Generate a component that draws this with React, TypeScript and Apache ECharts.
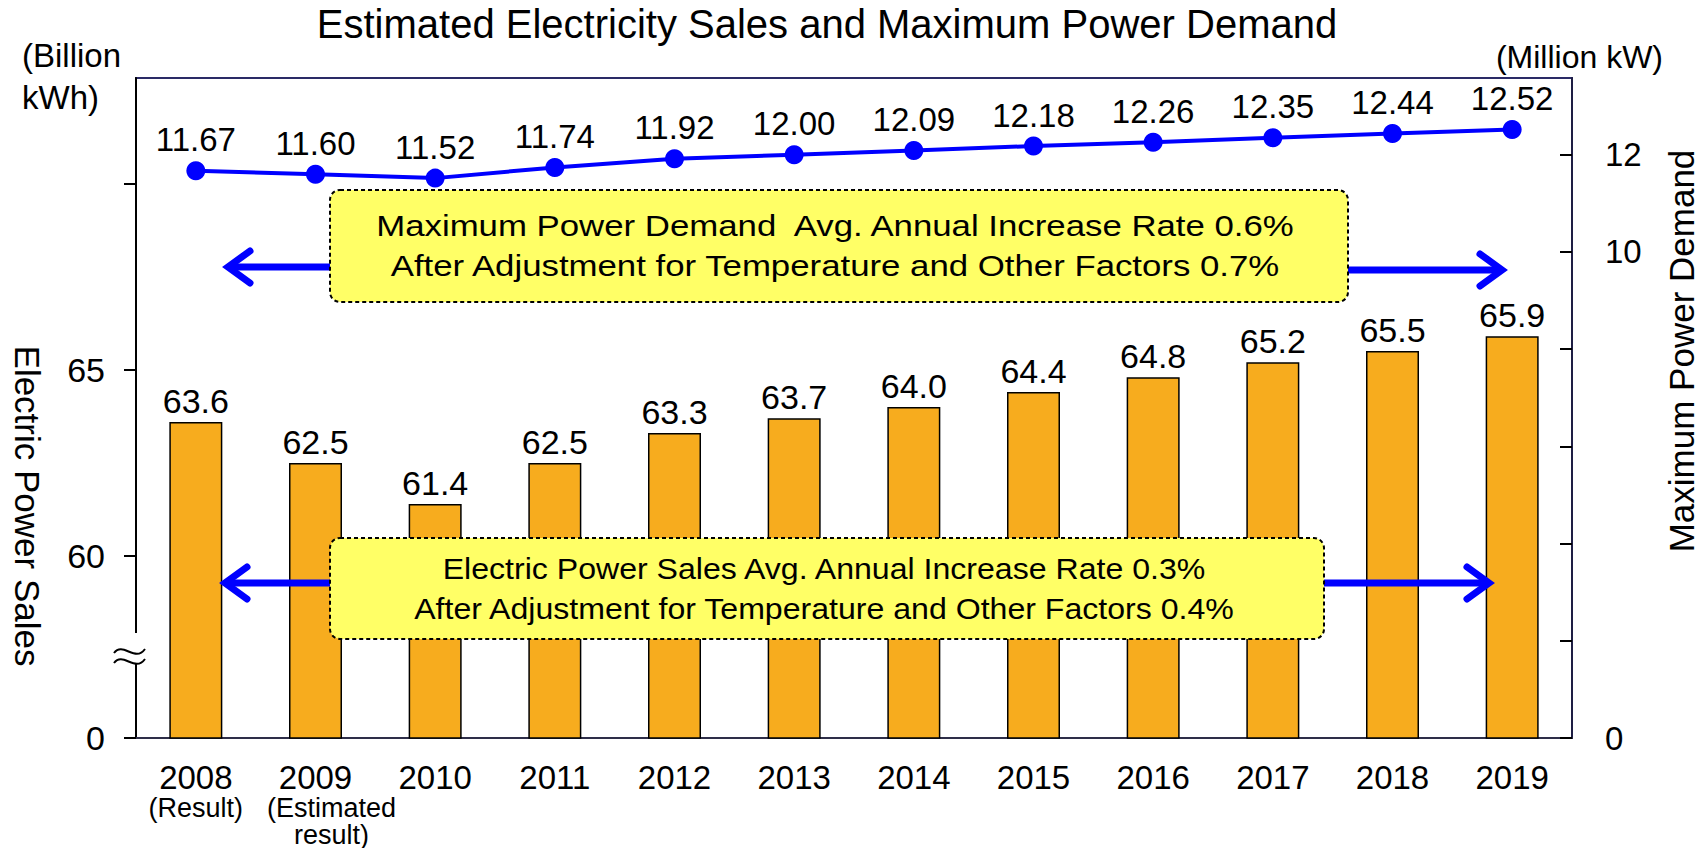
import React, { useEffect, useRef } from 'react';
import * as echarts from 'echarts';

const years = ['2008', '2009', '2010', '2011', '2012', '2013', '2014', '2015', '2016', '2017', '2018', '2019'];
const yearNotes = ['(Result)', '(Estimated\nresult)', '', '', '', '', '', '', '', '', '', ''];
const salesValues = [63.6, 62.5, 61.4, 62.5, 63.3, 63.7, 64.0, 64.4, 64.8, 65.2, 65.5, 65.9];
const demandValues = [11.67, 11.60, 11.52, 11.74, 11.92, 12.00, 12.09, 12.18, 12.26, 12.35, 12.44, 12.52];

// left axis is broken: its bottom stands for 0
const salesAxisBase = 55.117;
const salesAxisTop = 72.83;
const salesTickValues = [salesAxisBase, 60, 65, 70];
const salesLabelValues = [salesAxisBase, 60, 65];
const demandAxisMax = 13.58;
const demandTickValues = [0, 2, 4, 6, 8, 10, 12];
const demandLabelValues = [0, 10, 12];

const titleText = 'Estimated Electricity Sales and Maximum Power Demand';
const demandNote = ['Maximum Power Demand  Avg. Annual Increase Rate 0.6%', 'After Adjustment for Temperature and Other Factors 0.7%'];
const salesNote = ['Electric Power Sales Avg. Annual Increase Rate 0.3%', 'After Adjustment for Temperature and Other Factors 0.4%'];

const FONT = '"Liberation Sans", Arial, Helvetica, sans-serif';
const BLUE = '#0000FF';

function txt(text: string, x: number, y: number, fontSize: number, extra: any = {}, styleExtra: any = {}) {
  return {
    type: 'text',
    x,
    y,
    z: 110,
    ...extra,
    style: {
      text,
      fontSize,
      fontFamily: FONT,
      fill: '#000',
      align: 'center',
      textAlign: 'center',
      verticalAlign: 'middle',
      textVerticalAlign: 'middle',
      ...styleExtra,
    },
  };
}

function arrow(y: number, xFrom: number, xTip: number) {
  const dir = xTip > xFrom ? 1 : -1;
  const stroke = { stroke: BLUE, lineWidth: 7, fill: null, lineCap: 'round', lineJoin: 'miter' };
  return [
    { type: 'line', z: 90, shape: { x1: xFrom, y1: y, x2: xTip - dir * 3, y2: y }, style: { ...stroke, lineCap: 'butt' } },
    {
      type: 'polyline',
      z: 90,
      shape: { points: [[xTip - dir * 22, y - 16], [xTip, y], [xTip - dir * 22, y + 16]] },
      style: stroke,
    },
  ];
}

function noteBox(x: number, y: number, w: number, h: number, lines: string[], cx: number, stretch: number) {
  return [
    {
      type: 'rect',
      z: 100,
      shape: { x, y, width: w, height: h, r: 10 },
      style: { fill: '#FFFF66', stroke: '#000', lineWidth: 2, lineDash: [4, 3] },
    },
    txt(lines[0], cx, y + h / 2 - 20, 30, { scaleX: stretch }),
    txt(lines[1], cx, y + h / 2 + 20, 30, { scaleX: stretch }),
  ];
}

export default function App() {
  const ref = useRef<HTMLDivElement>(null);
  useEffect(() => {
    if (!ref.current) return;
    const chart = echarts.init(ref.current, null, { renderer: 'svg' });

    const option: any = {
      animation: false,
      textStyle: { fontFamily: FONT, color: '#000' },
      title: {
        text: titleText,
        left: 827,
        top: 4,
        textAlign: 'center',
        padding: 0,
        textStyle: { fontSize: 40, fontWeight: 'normal', color: '#000', fontFamily: FONT },
      },
      grid: {
        left: 136,
        right: 130,
        top: 78,
        bottom: 109,
        show: true,
        borderColor: '#2A2A66',
        borderWidth: 2,
        backgroundColor: 'transparent',
      },
      xAxis: {
        type: 'category',
        data: years,
        axisLine: { lineStyle: { color: '#2E2E48', width: 2 } },
        axisTick: { inside: true, length: 12, interval: 0, lineStyle: { color: '#000', width: 2 } },
        axisLabel: {
          interval: 0,
          margin: 22,
          color: '#000',
          formatter: (value: string, index: number) => {
            const note = yearNotes[index];
            if (!note) return `{y|${value}}`;
            const style = index === 1 ? 'e' : 's';
            return [`{y|${value}}`, ...note.split('\n').map((l) => `{${style}|${l}}`)].join('\n');
          },
          rich: {
            y: { fontSize: 33, lineHeight: 34, fontFamily: FONT, color: '#000' },
            s: { fontSize: 27, lineHeight: 27, fontFamily: FONT, color: '#000' },
            e: { fontSize: 27, lineHeight: 27, fontFamily: FONT, color: '#000', padding: [0, 0, 0, 32] },
          },
        },
      },
      yAxis: [
        {
          type: 'value',
          min: salesAxisBase,
          max: salesAxisTop,
          position: 'left',
          splitLine: { show: false },
          axisLine: { show: true, lineStyle: { color: '#000', width: 2 } },
          axisTick: { show: true, length: 12, customValues: salesTickValues, lineStyle: { color: '#000', width: 2 } },
          axisLabel: {
            customValues: salesLabelValues,
            margin: 31,
            fontSize: 34,
            color: '#000',
            formatter: (v: number) => (v < 58 ? '0' : String(Math.round(v))),
          },
        },
        {
          type: 'value',
          min: 0,
          max: demandAxisMax,
          position: 'right',
          splitLine: { show: false },
          axisLine: { show: true, lineStyle: { color: '#1E1E44', width: 2 } },
          axisTick: { show: true, inside: true, length: 12, customValues: demandTickValues, lineStyle: { color: '#000', width: 2 } },
          axisLabel: {
            customValues: demandLabelValues,
            margin: 33,
            fontSize: 33,
            color: '#000',
            formatter: (v: number) => String(v),
          },
        },
      ],
      series: [
        {
          type: 'bar',
          yAxisIndex: 0,
          data: salesValues,
          barWidth: 53,
          itemStyle: { color: '#F7AC1E', borderColor: '#000', borderWidth: 1.5 },
          label: {
            show: true,
            position: 'top',
            distance: 4,
            fontSize: 34,
            color: '#000',
            fontFamily: FONT,
            formatter: (p: any) => Number(p.value).toFixed(1),
          },
          z: 2,
        },
        {
          type: 'line',
          yAxisIndex: 1,
          data: demandValues,
          symbol: 'circle',
          symbolSize: 19,
          lineStyle: { color: BLUE, width: 4 },
          itemStyle: { color: BLUE },
          label: {
            show: true,
            position: 'top',
            distance: 5,
            fontSize: 33,
            color: '#000',
            fontFamily: FONT,
            formatter: (p: any) => Number(p.value).toFixed(2),
          },
          z: 5,
        },
      ],
      graphic: [
        txt('(Billion\nkWh)', 22, 34, 33, {}, { align: 'left', textAlign: 'left', verticalAlign: 'top', textVerticalAlign: 'top', lineHeight: 42 }),
        txt('(Million kW)', 1663, 57, 32, {}, { align: 'right', textAlign: 'right' }),
        txt('Electric Power Sales', 27, 506, 35, { rotation: -Math.PI / 2 }),
        txt('Maximum Power Demand', 1681, 351, 35, { rotation: Math.PI / 2 }),
        // axis break mark
        { type: 'rect', z: 95, shape: { x: 130, y: 633, width: 12, height: 30 }, style: { fill: '#fff' } },
        {
          type: 'bezierCurve',
          z: 96,
          shape: { x1: 114, y1: 653, cpx1: 123, cpy1: 641, cpx2: 135, cpy2: 663, x2: 145, y2: 649 },
          style: { stroke: '#000', lineWidth: 2, fill: null },
        },
        {
          type: 'bezierCurve',
          z: 96,
          shape: { x1: 114, y1: 663, cpx1: 123, cpy1: 651, cpx2: 135, cpy2: 673, x2: 145, y2: 659 },
          style: { stroke: '#000', lineWidth: 2, fill: null },
        },
        ...arrow(267, 330, 228),
        ...arrow(270, 1348, 1502),
        ...arrow(583, 330, 225),
        ...arrow(583, 1324, 1489),
        ...noteBox(330, 190, 1018, 112, demandNote, 835, 1.16),
        ...noteBox(330, 538, 994, 101, salesNote, 824, 1.07),
      ],
    };

    chart.setOption(option);
    return () => chart.dispose();
  }, []);

  return <div ref={ref} style={{ position: 'absolute', left: 0, top: 0, width: 1702, height: 848 }} />;
}
